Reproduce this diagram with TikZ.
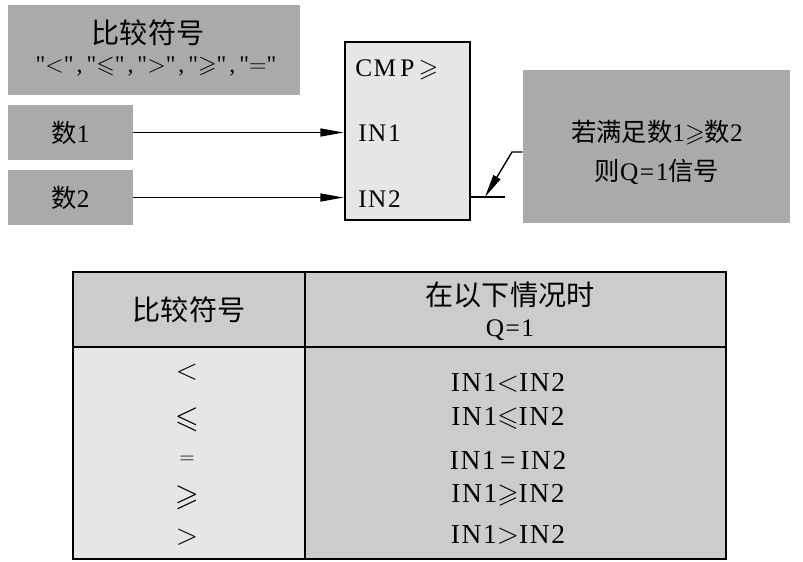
\documentclass[tikz,border=0pt]{standalone}
\usepackage{amsmath,amssymb}
\usepackage{fontspec}
\setmainfont{Liberation Serif}[LetterSpace=6]
\newfontfamily\qfont{Liberation Serif}[LetterSpace=12]
\newfontfamily\cjk{Noto Sans CJK SC}
\usepackage{tikz}
\usetikzlibrary{arrows.meta,positioning,calc}
\definecolor{boxgray}{HTML}{AAAAAA}
\definecolor{cellgray}{HTML}{CCCCCC}
\definecolor{cellpale}{HTML}{E6E6E6}
\newcommand{\zh}[1]{{\cjk #1}}

\begin{document}
\begin{tikzpicture}[
  x=0.025cm, y=-0.025cm,
  tag/.style={fill=boxgray, inner sep=0pt},
  blk/.style={draw, line width=2pt, fill=cellpale, inner sep=0pt},
  cell/.style={draw, line width=2pt, inner sep=0pt},
  txt/.style={inner sep=0pt, font=\fontsize{18}{22}\selectfont},
  big/.style={inner sep=0pt, font=\fontsize{20}{24}\selectfont},
  arr/.style={-{Triangle[length=5.8mm,width=2mm]}, line width=1pt}
]
\useasboundingbox (0,0) rectangle (803,561);

% upper part: inputs, CMP block, result
\node[tag, minimum width=7.3cm, minimum height=2.25cm] (sym) at (154,50) {};
\node[big] (symtitle) at (148,33) {\zh{比较符号}};
\node[inner sep=0pt, font=\fontsize{17}{20}\qfont] (symlist) at (156,67)
  {"$<$",\,"$\leqslant$",\,"$>$",\,"$\geqslant$",\,"$=$"};

\node[tag, minimum width=3.125cm, minimum height=1.375cm] (num1) at (70.5,132.5) {};
\node[txt] at (num1) {\zh{数}1};
\node[tag, minimum width=3.125cm, minimum height=1.375cm] (num2) at (70.5,197.5) {};
\node[txt] at (num2) {\zh{数}2};

\node[blk, minimum width=3.125cm, minimum height=4.45cm] (cmp) at (407.5,131) {};
\node[txt, anchor=west] (cmpname) at (355,70) {CM\,P\,$\geqslant$};
\node[txt, anchor=west] (in1) at (358,133) {IN1};
\node[txt, anchor=west] (in2) at (358,199) {IN2};

\node[tag, minimum width=6.675cm, minimum height=3.825cm] (res) at (656.5,146.5) {};
\node[txt] (restop) at (657,133) {\zh{若满足数}1$\geqslant$\zh{数}2};
\node[txt] (resbot) at (657,172) {\zh{则}Q=1\zh{信号}};

\coordinate (qout) at (505,197);
\coordinate (bend) at (512,152);
\coordinate (tip) at (485,197);

\draw[arr] (num1.east) -- (num1.east -| cmp.west);
\draw[arr] (num2.east) -- (num2.east -| cmp.west);
\draw[line width=1pt] (cmp.east |- qout) -- (qout);
\draw[arr] (res.west |- bend) -- (bend) -- (tip);

% lower part: table
\node[cell, fill=cellgray, minimum width=5.8cm, minimum height=1.875cm] (h1) at (189,309.5) {};
\node[cell, fill=cellgray, minimum width=10.525cm, minimum height=1.875cm] (h2) at (515.5,309.5) {};
\node[cell, fill=cellpale, minimum width=5.8cm, minimum height=5.3cm] (b1) at (189,453) {};
\node[cell, fill=cellgray, minimum width=10.525cm, minimum height=5.3cm] (b2) at (515.5,453) {};

\node[big] (h1txt) at (h1) {\zh{比较符号}};
\node[big] (h2top) at (510,295) {\zh{在以下情况时}};
\node[txt] (h2bot) at (510,330) {Q=1};

\foreach \s/\y in {$<$/372, $\leqslant$/420, {\fontsize{14}{16}\selectfont$=$}/460, $\geqslant$/498, $>$/537}
  \node[inner sep=0pt, font=\fontsize{22}{26}\selectfont] at (187,\y) {\s};

\foreach \s/\y in {IN1$<$IN2/383, IN1$\leqslant$IN2/418, IN1\,=\,IN2/460, IN1$\geqslant$IN2/495, IN1$>$IN2/535}
  \node[inner sep=0pt, font=\fontsize{19.5}{23}\selectfont] at (508,\y) {\s};
\end{tikzpicture}
\end{document}
